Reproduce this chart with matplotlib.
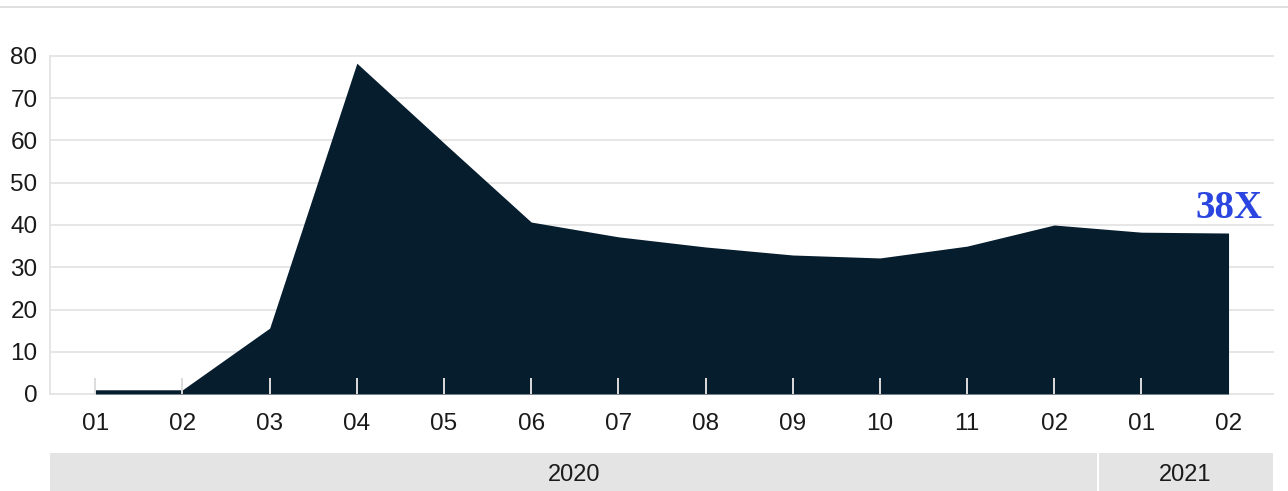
import numpy as np
import matplotlib.pyplot as plt
from matplotlib.patches import Rectangle
from matplotlib.transforms import blended_transform_factory

NAVY, GRID, BAND, INK = "#061d2e", "#e4e4e4", "#e4e4e4", "#1a1a1a"
BLUE = "#2b46e0"

months = ["01", "02", "03", "04", "05", "06", "07", "08", "09", "10", "11", "02", "01", "02"]
values = [1.0, 1.0, 15.6, 78.3, 59.4, 40.7, 37.2, 34.8, 32.9, 32.2, 35.0, 40.0, 38.3, 38.1]
years = ["2020", "2021"]
year_counts = [12, 2]
yticks = [0, 10, 20, 30, 40, 50, 60, 70, 80]

plt.rcParams.update({"font.family": ["Liberation Sans", "DejaVu Sans"]})

fig = plt.figure(figsize=(12.88, 4.91), dpi=100)
ax = fig.add_axes([50 / 1288, 1 - 394 / 491, 1223 / 1288, 338 / 491])

x = np.arange(len(values))
ax.fill_between(x, 0, values, color=NAVY, linewidth=0, zorder=3)

# small separators along the baseline
ax.vlines(x[:-1], 0, 3.7, color="#dcdcdc", linewidth=1.4, zorder=4)

ax.set_xlim(-0.52, len(values) - 0.49)
ax.set_ylim(0, 80)
ax.set_yticks(yticks)
ax.grid(axis="y", color=GRID, linewidth=1.3, zorder=0)
for line in ax.get_ygridlines():
    line.set_clip_on(False)
ax.set_axisbelow(True)

for s in ("top", "right", "bottom"):
    ax.spines[s].set_visible(False)
ax.spines["left"].set_color(GRID)
ax.spines["left"].set_linewidth(1.3)

ax.set_xticks(x)
ax.set_xticklabels(months)
ax.tick_params(axis="x", length=0, pad=14, labelsize=17.5, colors=INK)
ax.tick_params(axis="y", length=0, pad=9, labelsize=17.5, colors=INK)

# year band under the month labels
tr = blended_transform_factory(ax.transData, ax.transAxes)
band_y0, band_y1 = -(491 - 394) / 338, -(453 - 394) / 338
edges = [ax.get_xlim()[0]]
pos = -0.5
for n in year_counts:
    pos += n
    edges.append(pos)
edges[-1] = ax.get_xlim()[1]
for i, yr in enumerate(years):
    x0, x1 = edges[i], edges[i + 1]
    left = x0 + (0.012 if i > 0 else 0)
    right = x1 - (0.012 if i < len(years) - 1 else 0)
    ax.add_patch(Rectangle((left, band_y0), right - left, band_y1 - band_y0,
                           transform=tr, color=BAND, clip_on=False, linewidth=0))
    ax.text((x0 + x1) / 2, (band_y0 + band_y1) / 2 - 0.01, yr, transform=tr,
            ha="center", va="center", fontsize=17, color=INK)

ax.text(13.39, 41.7, f"{values[-1]:.0f}X", ha="right", va="baseline",
        fontsize=28, fontweight="bold", color=BLUE,
        family=["Liberation Serif", "DejaVu Serif"])

# thin rule across the top
fig.add_artist(plt.Line2D([0, 1], [1 - 7 / 491] * 2, color="#dcdcdc", linewidth=1.3))

fig.savefig("out.png", dpi=100, facecolor="white")
